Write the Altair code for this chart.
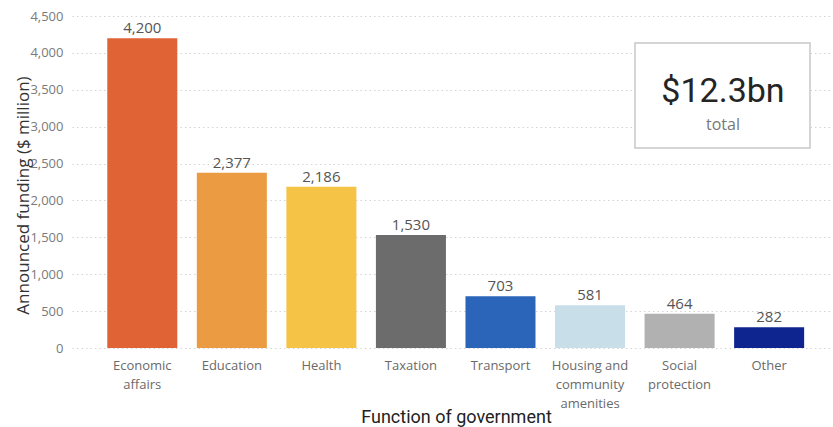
import altair as alt
import pandas as pd

categories = ["Economic affairs", "Education", "Health", "Taxation", "Transport",
              "Housing and community amenities", "Social protection", "Other"]
values = [4200, 2377, 2186, 1530, 703, 581, 464, 282]
colors = ["#E06336", "#EB9C43", "#F5C346", "#6C6C6D", "#2B65B9",
          "#C8DEE8", "#B1B1B1", "#0E2590"]
tick_lines = [["Economic", "affairs"], ["Education"], ["Health"], ["Taxation"],
              ["Transport"], ["Housing and", "community", "amenities"],
              ["Social", "protection"], ["Other"]]
y_ticks = [0, 500, 1000, 1500, 2000, 2500, 3000, 3500, 4000, 4500]
total_text = "$12.3bn"
total_sub = "total"

df = pd.DataFrame({"category": categories, "value": values})

# multiline label expression
expr = "datum.label"
for cat, lines in reversed(list(zip(categories, tick_lines))):
    arr = "[" + ",".join("'" + l + "'" for l in lines) + "]"
    expr = f"datum.label == '{cat}' ? {arr} : ({expr})"

W, H = 761, 332

x_enc = alt.X("category:N", sort=categories,
              scale=alt.Scale(paddingInner=0.218, paddingOuter=0.358, align=0.55),
              axis=alt.Axis(title="Function of government", labelAngle=0,
                            labelExpr=expr, labelFont="Open Sans", labelFontSize=13,
                            labelColor="#6a6a6a", labelPadding=11, labelLineHeight=19,
                            labelBaseline="top",
                            domain=False, ticks=False, grid=False,
                            titleFont="Roboto", titleFontSize=18, titleFontWeight="normal",
                            titleColor="#222222", titleY=74, titleBaseline="alphabetic",
                            titleX=384, titleAnchor="start", titleAlign="center"))
y_enc = alt.Y("value:Q", scale=alt.Scale(domain=[0, 4500], nice=False),
              axis=alt.Axis(title="Announced funding ($ million)", values=y_ticks,
                            format=",.0f", labelFont="Open Sans", labelFontSize=13,
                            labelColor="#7a7a7a", labelPadding=9, labelOverlap=False,
                            domain=False, ticks=False,
                            gridColor="#d4d4d4", gridDash=[1.5, 3], gridWidth=1,
                            titleFont="Open Sans", titleFontSize=17,
                            titleFontWeight="normal", titleColor="#333333",
                            titleX=-49, titleY=179, titleAngle=270,
                            titleAlign="center", titleBaseline="middle",
                            titleAnchor="start"))

base = alt.Chart(df).encode(x=x_enc, y=y_enc)

bars = base.mark_bar().encode(
    color=alt.Color("category:N", scale=alt.Scale(domain=categories, range=colors),
                    legend=None),
)

labels = base.mark_text(font="Open Sans", fontSize=15, color="#555555",
                        baseline="alphabetic", dy=-5).encode(
    text=alt.Text("value:Q", format=","),
)

one = pd.DataFrame({"t": [total_text], "s": [total_sub]})
box = alt.Chart(one).mark_rect(fill="white", stroke="#c8c8c8", strokeWidth=1.5).encode(
    x=alt.value(563), x2=alt.value(738), y=alt.value(27), y2=alt.value(132))
big = alt.Chart(one).mark_text(font="Roboto", fontSize=34, color="#252525",
                               align="center", baseline="alphabetic").encode(
    x=alt.value(651), y=alt.value(86), text="t:N")
sub = alt.Chart(one).mark_text(font="Open Sans", fontSize=16, color="#777777",
                               align="center", baseline="alphabetic").encode(
    x=alt.value(651), y=alt.value(114), text="s:N")

chart = alt.layer(bars, labels, box, big, sub).properties(
    width=W, height=H,
    autosize=alt.AutoSizeParams(type="none"),
    padding={"left": 72, "top": 16, "right": 0, "bottom": 79},
).configure_view(stroke=None)

chart.save("out.html", embed_options={"renderer": "svg", "actions": False})
